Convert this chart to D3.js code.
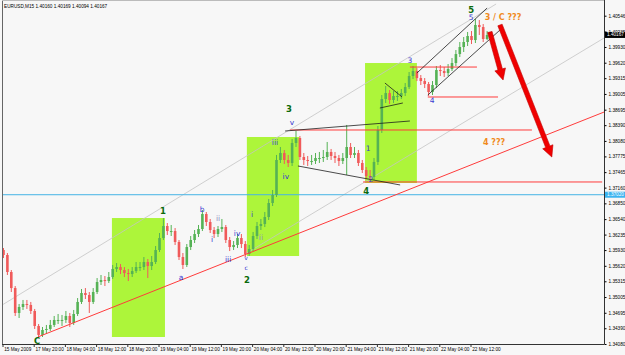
<!DOCTYPE html>
<html>
<head>
<meta charset="UTF-8">
<title>EURUSD,M15</title>
<script src="https://d3js.org/d3.v7.min.js"></script>
<style>
  body { margin: 0; background: #f7f7f7; }
  svg { display: block; font-family: "Liberation Sans", Arial, sans-serif; }
</style>
</head>
<body>
<div id="chart"></div>
<script>
// ---- data (hourly bars) ----
const firstOpen = 1.35931;
const closes = [
  1.35833,1.35498,1.35182,1.34691,1.34809,1.34868,1.34849,1.34730,1.34435,1.34258,
  1.34356,1.34376,1.34455,1.34553,1.34553,1.34553,1.34632,1.34494,1.34671,1.34908,
  1.35084,1.35045,1.34908,1.35104,1.35301,1.35340,1.35320,1.35399,1.35557,1.35596,
  1.35537,1.35478,1.35458,1.35517,1.35596,1.35596,1.35695,1.35616,1.35695,1.35931,
  1.36167,1.36404,1.36305,1.36305,1.36089,1.35793,1.35636,1.35990,1.36128,1.36246,
  1.36345,1.36640,1.36483,1.36325,1.36246,1.36345,1.36384,1.36128,1.35990,1.36030,
  1.36167,1.36049,1.35852,1.35951,1.36207,1.36404,1.36443,1.36581,1.36857,1.37015,
  1.37704,1.37842,1.37704,1.37645,1.38039,1.38137,1.37763,1.37704,1.37684,1.37684,
  1.37743,1.37743,1.37763,1.37862,1.37783,1.37743,1.37684,1.37743,1.37960,1.37803,
  1.37842,1.37645,1.37507,1.37389,1.37369,1.37665,1.38295,1.38905,1.39023,1.38886,
  1.38964,1.38964,1.39023,1.39141,1.39358,1.39456,1.39318,1.39259,1.39200,1.39043,
  1.39181,1.39476,1.39456,1.39417,1.39496,1.39614,1.39791,1.39929,1.40028,1.40146,
  1.40067,1.40363,1.40323,1.40087,1.40167
];
const highs = [
  1.35970,1.35872,1.35537,1.35222,1.34868,1.34947,1.34947,1.34908,1.34770,1.34474,
  1.34415,1.34455,1.34553,1.34632,1.34671,1.34652,1.34730,1.34691,1.34750,1.34985,
  1.35163,1.35182,1.35104,1.35182,1.35379,1.35439,1.35419,1.35498,1.35636,1.35675,
  1.35655,1.35596,1.35557,1.35596,1.35695,1.35695,1.35793,1.35754,1.35813,1.36010,
  1.36266,1.36561,1.36463,1.36424,1.36364,1.36128,1.35872,1.36049,1.36207,1.36325,
  1.36424,1.36719,1.36680,1.36542,1.36384,1.36404,1.36542,1.36424,1.36187,1.36108,
  1.36246,1.36246,1.36108,1.36030,1.36286,1.36483,1.36542,1.36680,1.36936,1.37113,
  1.37803,1.37960,1.37901,1.37803,1.38118,1.38275,1.38177,1.37842,1.37783,1.37803,
  1.37842,1.37862,1.37901,1.38059,1.37921,1.37862,1.37803,1.37842,1.38394,1.38039,
  1.37960,1.37901,1.37704,1.37566,1.37507,1.37743,1.38374,1.38984,1.39161,1.39082,
  1.39062,1.39062,1.39102,1.39220,1.39437,1.39555,1.39515,1.39378,1.39318,1.39240,
  1.39259,1.39555,1.39575,1.39535,1.39594,1.39712,1.39870,1.40028,1.40126,1.40225,
  1.40244,1.40481,1.40461,1.40382,1.40244
];
const lows = [
  1.35773,1.35439,1.35104,1.34632,1.34592,1.34750,1.34770,1.34671,1.34376,1.34198,
  1.34218,1.34277,1.34336,1.34415,1.34474,1.34435,1.34494,1.34415,1.34455,1.34632,
  1.34868,1.34966,1.34691,1.34868,1.35064,1.35242,1.35222,1.35281,1.35360,1.35498,
  1.35458,1.35399,1.35320,1.35399,1.35478,1.35517,1.35537,1.35379,1.35537,1.35655,
  1.35892,1.36128,1.36227,1.36207,1.36030,1.35734,1.35557,1.35596,1.35931,1.36069,
  1.36187,1.36305,1.36404,1.36266,1.36167,1.36187,1.36286,1.36069,1.35911,1.35931,
  1.35970,1.35970,1.35793,1.35813,1.35911,1.36148,1.36325,1.36384,1.36522,1.36798,
  1.36975,1.37645,1.37625,1.37566,1.37586,1.37960,1.37704,1.37606,1.37586,1.37606,
  1.37625,1.37645,1.37665,1.37704,1.37704,1.37645,1.37586,1.37625,1.37409,1.37743,
  1.37743,1.37586,1.37448,1.37330,1.37290,1.37310,1.37606,1.38236,1.38827,1.38807,
  1.38827,1.38866,1.38905,1.38964,1.39102,1.39299,1.39259,1.39181,1.39121,1.38964,
  1.38984,1.39121,1.39358,1.39338,1.39358,1.39456,1.39555,1.39732,1.39831,1.39949,
  1.39988,1.40008,1.40166,1.40028,1.40067
];
const opens = [firstOpen].concat(closes.slice(0, -1));

const priceTicks = [1.40546,1.40235,1.39930,1.39620,1.39315,1.39005,1.38695,1.38390,1.38080,1.37775,
  1.37465,1.37160,1.36850,1.36540,1.36235,1.35930,1.35620,1.35315,1.35005,1.34695,1.34390,1.34080];
const timeTicks = [0,8,16,24,32,40,48,56,64,72,80,88,96,104,112,120];
const timeLabels = ["15 May 2009","17 May 20:00","18 May 04:00","18 May 12:00","18 May 20:00",
  "19 May 04:00","19 May 12:00","19 May 20:00","20 May 04:00","20 May 12:00","20 May 20:00",
  "21 May 04:00","21 May 12:00","21 May 20:00","22 May 04:00","22 May 12:00"];

const title = "EURUSD,M15  1.40160 1.40169 1.40094 1.40167";
const lastPrice = 1.40167;
const blueLevel = 1.37020;

// annotations in (bar index, price)
const zones = [[27.8, 1.36561, 41.4, 1.34218], [62.4, 1.38157, 75.8, 1.35813], [92.7, 1.39614, 106.0, 1.37251]];
const grayLines = [[-0.1, 1.34860, 126.3, 1.40776], [62.4, 1.35872, 154, 1.40107]];
const redLines = [[8.8, 1.34218, 154, 1.38649], [73.5, 1.38295, 135.5, 1.38295], [92.2, 1.37271, 153.5, 1.37271],
  [104.2, 1.39535, 121.4, 1.39535], [108.8, 1.38945, 126.8, 1.38945]];
const blackLines = [[72.2, 1.38275, 104.2, 1.38472], [75.5, 1.37586, 101.7, 1.37212],
  [97.8, 1.39220, 102.2, 1.38945], [96.5, 1.38728, 102.4, 1.38827],
  [106.0, 1.39417, 124.0, 1.40697], [108.8, 1.38984, 127.3, 1.40264]];
const arrows = [[124.7, 1.40225, 128.1, 1.39279], [127.3, 1.40363, 140.6, 1.37763]];

const labelIdx   = [40.9, 8.6, 62.4, 73.2, 93.0, 119.9,
  45.5, 50.9, 53.5, 55.0, 59.9, 57.6, 62.2, 62.2, 63.7, 66.0, 69.6, 72.4, 74.0,
  93.5, 94.2, 104.2, 109.9, 119.9, 128.1, 125.8];
const labelPrice = [1.36680, 1.34139, 1.35340, 1.38689, 1.37074, 1.40658,
  1.35380, 1.36719, 1.36128, 1.36542, 1.36246, 1.35734, 1.35773, 1.35577, 1.36620, 1.36167, 1.38039, 1.37369, 1.38433,
  1.37921, 1.37310, 1.39653, 1.38866, 1.40501, 1.40520, 1.38039];
const labelText  = ["1","C","2","3","4","5",
  "a","b","i","ii","iv","iii","v","c","i","ii","iii","iv","v",
  "1","2","3","4","5","3 / C ???","4 ???"];
const labelKind  = ["major","major","major","major","major","major",
  "minor","minor","minor","sub","minor","minor","small","small","minor","sub","minor","minor","minor",
  "minor","minor","minor","minor","minor","note","note"];

// ---- drawing ----
const width = 625, height = 355;
const plot = { left: 2, right: 604, top: 1, bottom: 344 };

const svg = d3.select("#chart").append("svg")
  .attr("width", width).attr("height", height);

const x = d3.scaleLinear().domain([0, 154]).range([3.5, 604.1]);
const y = d3.scaleLinear().domain([1.34080, 1.40546]).range([344, 15.7]);

svg.append("rect").attr("width", width).attr("height", height).attr("fill", "#f7f7f7");

svg.append("clipPath").attr("id", "clip")
  .append("rect")
  .attr("x", plot.left).attr("y", plot.top)
  .attr("width", plot.right - plot.left).attr("height", plot.bottom - plot.top);

const g = svg.append("g").attr("clip-path", "url(#clip)");

// green zones
g.selectAll(".zone").data(zones).enter().append("rect")
  .attr("x", d => x(d[0])).attr("y", d => y(d[1]))
  .attr("width", d => x(d[2]) - x(d[0])).attr("height", d => y(d[3]) - y(d[1]))
  .attr("fill", "#adf53a");

function drawLines(data, color, w) {
  g.selectAll(null).data(data).enter().append("line")
    .attr("x1", d => x(d[0])).attr("y1", d => y(d[1]))
    .attr("x2", d => x(d[2])).attr("y2", d => y(d[3]))
    .attr("stroke", color).attr("stroke-width", w);
}

drawLines(grayLines, "#c4c4c4", 0.8);

// blue level
g.append("line")
  .attr("x1", plot.left).attr("x2", plot.right)
  .attr("y1", y(blueLevel)).attr("y2", y(blueLevel))
  .attr("stroke", "#46b4e6").attr("stroke-width", 1);

// candles
const bars = d3.range(closes.length);
const color = i => closes[i] >= opens[i] ? "#55b255" : "#f05a5a";

g.selectAll(".wick").data(bars).enter().append("line")
  .attr("x1", i => x(i)).attr("x2", i => x(i))
  .attr("y1", i => y(highs[i])).attr("y2", i => y(lows[i]))
  .attr("stroke", color).attr("stroke-width", 1);

g.selectAll(".body").data(bars).enter().append("rect")
  .attr("x", i => x(i) - 1.3)
  .attr("y", i => y(Math.max(opens[i], closes[i])))
  .attr("width", 2.6)
  .attr("height", i => Math.max(1, Math.abs(y(opens[i]) - y(closes[i]))))
  .attr("fill", color);

drawLines(redLines, "#ff3b3b", 1);
drawLines(blackLines, "#1e1e1e", 0.8);

// wave labels
const kindStyle = {
  major: { fill: "#0a6a0a", size: 8.5, weight: "bold" },
  minor: { fill: "#3a3ad0", size: 7.5, weight: "normal" },
  small: { fill: "#3a3ad0", size: 6, weight: "normal" },
  sub:   { fill: "#8c8cc0", size: 7.5, weight: "normal" },
  note:  { fill: "#f08a1c", size: 8, weight: "bold" }
};
g.selectAll(".lbl").data(labelText).enter().append("text")
  .attr("x", (d, i) => x(labelIdx[i]))
  .attr("y", (d, i) => y(labelPrice[i]))
  .attr("text-anchor", "middle")
  .attr("dominant-baseline", "middle")
  .attr("font-family", "DejaVu Sans, sans-serif")
  .attr("font-size", (d, i) => kindStyle[labelKind[i]].size)
  .attr("font-weight", (d, i) => kindStyle[labelKind[i]].weight)
  .attr("fill", (d, i) => kindStyle[labelKind[i]].fill)
  .text(d => d);

// red arrows
function arrowPath(a) {
  const x1 = x(a[0]), y1 = y(a[1]), x2 = x(a[2]), y2 = y(a[3]);
  const len = Math.hypot(x2 - x1, y2 - y1);
  const ux = (x2 - x1) / len, uy = (y2 - y1) / len;
  const nx = -uy, ny = ux;
  const sw = 2.3, hw = 5.5, hl = 11;
  const bx = x2 - ux * hl, by = y2 - uy * hl;
  const pts = [
    [x1 + nx * sw, y1 + ny * sw], [bx + nx * sw, by + ny * sw], [bx + nx * hw, by + ny * hw],
    [x2, y2],
    [bx - nx * hw, by - ny * hw], [bx - nx * sw, by - ny * sw], [x1 - nx * sw, y1 - ny * sw]
  ];
  return "M" + pts.map(p => p.join(",")).join("L") + "Z";
}
g.selectAll(".arrow").data(arrows).enter().append("path")
  .attr("d", arrowPath)
  .attr("fill", "#f00000")
  .attr("stroke", "#c00000")
  .attr("stroke-width", 0.6);

// frame
svg.append("line").attr("x1", plot.left + 0.5).attr("x2", plot.left + 0.5)
  .attr("y1", 0).attr("y2", plot.bottom).attr("stroke", "#666");
svg.append("line").attr("x1", plot.left).attr("x2", plot.right)
  .attr("y1", plot.top - 0.5).attr("y2", plot.top - 0.5).attr("stroke", "#bbb");

// price axis
svg.append("g")
  .attr("transform", `translate(${plot.right + 0.5},0)`)
  .call(d3.axisRight(y).tickValues(priceTicks).tickFormat(d3.format(".5f")).tickSize(2).tickPadding(2))
  .call(a => a.select(".domain").attr("d", `M0,0V${plot.bottom}`).attr("stroke", "#333"))
  .call(a => a.selectAll("text").attr("font-size", 4.7).attr("fill", "#000").attr("font-family", "Liberation Sans, Arial, sans-serif"));

// price boxes
function priceBox(p, bg) {
  const yy = y(p);
  svg.append("rect").attr("x", plot.right + 1).attr("y", yy - 3).attr("width", 21).attr("height", 6).attr("fill", bg);
  svg.append("text").attr("x", plot.right + 3).attr("y", yy).attr("dominant-baseline", "middle")
    .attr("font-size", 4.7).attr("fill", "#fff").text(d3.format(".5f")(p));
}
priceBox(lastPrice, "#000");
priceBox(blueLevel, "#3cb4f0");

// time axis
svg.append("line").attr("x1", plot.left).attr("x2", plot.right + 0.5)
  .attr("y1", plot.bottom + 0.5).attr("y2", plot.bottom + 0.5).attr("stroke", "#333");
const tg = svg.append("g").selectAll("g").data(timeTicks).enter().append("g")
  .attr("transform", d => `translate(${x(d) - 0.5},${plot.bottom})`);
tg.append("line").attr("y1", 0).attr("y2", 3).attr("stroke", "#333");
tg.append("text").attr("x", 1.2).attr("y", 7.2)
  .attr("font-size", 4.7).attr("fill", "#000")
  .text((d, i) => timeLabels[i]);

// title
svg.append("text").attr("x", 4).attr("y", 8).attr("font-size", 4.7).attr("fill", "#000").text(title);
</script>
</body>
</html>
